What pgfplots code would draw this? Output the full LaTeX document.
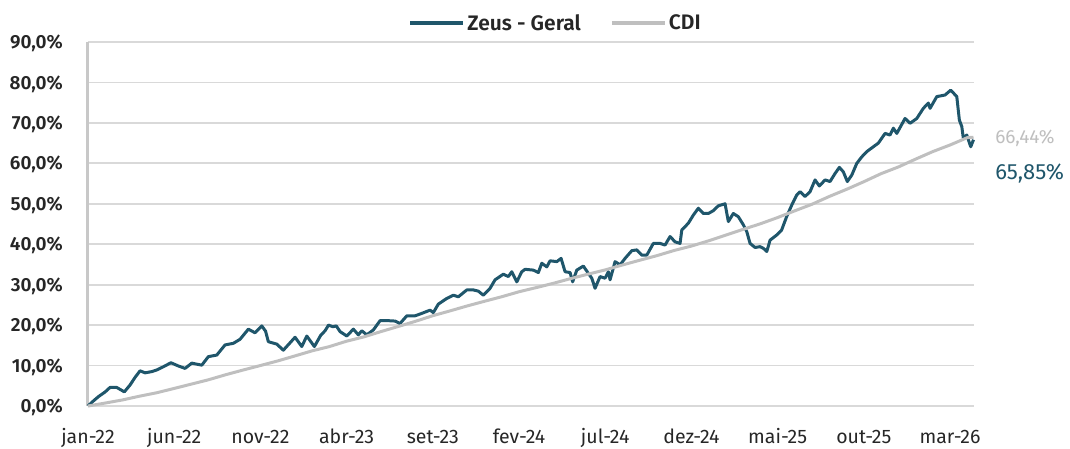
\documentclass[border=0pt]{standalone}
\usepackage{pgfplots}
\pgfplotsset{compat=1.18}
\usepackage{fontspec}
\setmainfont{Fira Sans}[BoldFont={Fira Sans SemiBold}]

\definecolor{zeus}{RGB}{31,86,107}
\definecolor{cdi}{RGB}{191,191,191}
\definecolor{gridc}{RGB}{217,217,217}
\definecolor{axc}{RGB}{200,200,200}
\definecolor{txt}{RGB}{38,38,38}

\begin{document}
\begin{tikzpicture}
% page = 1070 x 448, plot area starts at (0,0)
\path[use as bounding box] (-88pt,-42pt) rectangle (982pt,406pt);
\begin{axis}[
    scale only axis, width=885.5pt, height=364pt,
    at={(0pt,0pt)}, anchor=south west,
    xmin=0, xmax=51.36, ymin=0, ymax=90,
    clip=false,
    axis lines=left,
    x axis line style={draw=none},
    y axis line style={draw=axc, line width=3pt, -},
    ymajorgrids, grid style={gridc, line width=1.8pt},
    major tick length=0pt,
    xtick={0,5,...,50},
    xticklabels={jan-22,jun-22,nov-22,abr-23,set-23,fev-24,jul-24,dez-24,mai-25,out-25,mar-26},
    xticklabel style={anchor=base, inner sep=0pt, yshift=-37.5pt, text=txt,
        font=\fontsize{19.5pt}{23pt}\selectfont},
    ytick={0,10,...,90},
    yticklabel={\pgfmathprintnumber[use comma, fixed, fixed zerofill, precision=1, assume math mode=true]{\tick}\%},
    yticklabel style={anchor=base east, inner sep=0pt, xshift=-25pt, yshift=-6.6pt, text=txt,
        font=\bfseries\fontsize{19pt}{22pt}\selectfont},
    legend style={at={(0.528,1.052)}, anchor=center, draw=none, fill=none,
        legend columns=2, text=txt, inner sep=0pt,
        font=\bfseries\fontsize{21pt}{24pt}\selectfont,
        /tikz/every even column/.append style={column sep=27pt}},
    legend image code/.code={\draw[#1, line width=4pt] (0pt,0pt) -- (53pt,0pt);},
]
% Zeus - Geral
\addplot[zeus, line width=3pt, line join=round] coordinates {
(0,0) (0.3,1.2) (0.6,2.3) (1.0,3.5) (1.28,4.6) (1.66,4.6) (2.11,3.5) (2.44,5.2)
(2.75,7.2) (3.02,8.7) (3.31,8.2) (3.69,8.5) (3.98,8.9) (4.37,9.7) (4.81,10.7)
(5.24,9.9) (5.63,9.3) (6.02,10.6) (6.60,10.1) (6.98,12.2) (7.47,12.6) (7.95,15.1)
(8.43,15.5) (8.82,16.5) (9.30,19.0) (9.69,18.1) (10.08,19.8) (10.30,18.5)
(10.46,15.9) (10.95,15.3) (11.33,13.8) (12.01,17.0) (12.40,14.7) (12.69,17.3)
(13.13,14.7) (13.50,17.5) (13.75,18.6) (13.95,20.0) (14.20,19.6) (14.40,19.8)
(14.62,18.4) (15.01,17.3) (15.39,19.0) (15.68,17.6) (15.88,18.6) (16.17,17.6)
(16.55,18.8) (16.94,21.1) (17.42,21.1) (17.81,21.0) (18.10,20.4) (18.49,22.3)
(18.97,22.3) (19.36,22.9) (19.84,23.7) (20.03,23.1) (20.32,25.2) (20.81,26.6)
(21.19,27.4) (21.48,27.0) (21.97,28.7) (22.35,28.7) (22.64,28.4) (22.93,27.4)
(23.32,29.1) (23.61,31.2) (24.09,32.6) (24.38,32.0) (24.58,33.2) (24.87,30.7)
(25.16,33.2) (25.35,33.8) (25.83,33.6) (26.12,33.0) (26.32,35.3) (26.61,34.4)
(26.80,35.9) (27.19,35.7) (27.44,36.5) (27.67,33.2) (27.96,33.0) (28.11,30.7)
(28.35,33.6) (28.73,34.6) (29.02,32.8) (29.22,31.6) (29.41,29.1) (29.70,32.0)
(29.99,31.6) (30.18,33.2) (30.28,31.2) (30.57,35.7) (30.86,34.9) (31.15,36.5)
(31.54,38.4) (31.83,38.6) (32.12,37.3) (32.41,37.3) (32.79,40.2) (33.18,40.2)
(33.47,39.8) (33.76,41.9) (34.05,40.6) (34.34,40.2) (34.44,43.5) (34.82,45.2)
(35.11,47.2) (35.40,48.9) (35.69,47.6) (35.98,47.6) (36.27,48.3) (36.56,49.5)
(36.95,50.0) (37.14,45.6) (37.43,47.6) (37.72,46.8) (38.01,44.8) (38.21,43.1)
(38.40,40.2) (38.69,39.2) (38.98,39.4) (39.17,39.0) (39.37,38.2) (39.56,41.0)
(39.95,42.3) (40.23,43.5) (40.52,46.8) (40.82,49.7) (41.11,52.2) (41.30,53.0)
(41.59,51.8) (41.88,53.0) (42.17,55.9) (42.42,54.4) (42.75,55.9) (43.04,55.5)
(43.33,57.5) (43.58,59.0) (43.81,57.9) (44.04,55.5) (44.30,57.1) (44.59,60.0)
(44.88,61.6) (45.17,62.9) (45.55,64.1) (45.84,65.0) (46.23,67.4) (46.52,67.0)
(46.71,68.7) (46.91,67.4) (47.39,71.1) (47.68,69.9) (48.07,71.1) (48.45,73.6)
(48.74,74.9) (48.84,73.6) (49.23,76.5) (49.71,76.9) (50.04,78.1) (50.39,76.5)
(50.54,70.7) (50.68,69.1) (50.77,66.2) (50.97,67.0) (51.20,64.1) (51.36,65.85)
};
\addlegendentry{Zeus - Geral}
% CDI, month-end accumulated
\addplot[cdi, line width=3pt, line join=round] coordinates {
(0,0) (1,0.73) (2,1.50) (3,2.44) (4,3.29) (5,4.35) (6,5.42) (7,6.50) (8,7.75)
(9,8.90) (10,10.01) (11,11.14) (12,12.38) (13,13.64) (14,14.69) (15,16.03)
(16,17.09) (17,18.41) (18,19.67) (19,20.95) (20,22.33) (21,23.52) (22,24.75)
(23,25.90) (24,27.02) (25,28.25) (26,29.28) (27,30.35) (28,31.51) (29,32.60)
(30,33.65) (31,34.87) (32,36.04) (33,37.18) (34,38.46) (35,39.55) (36,40.85)
(37,42.27) (38,43.68) (39,45.06) (40,46.60) (41,48.27) (42,49.90) (43,51.82)
(44,53.58) (45,55.46) (46,57.45) (47,59.10) (48,61.04) (49,62.91) (50,64.54)
(51,66.35) (51.36,66.44)
};
\addlegendentry{CDI}
\node[anchor=west, inner sep=0pt, text=cdi, font=\fontsize{19pt}{22pt}\selectfont]
    at (axis cs:52.61,66.1) {66,44\%};
\node[anchor=west, inner sep=0pt, text=zeus, font=\fontsize{22pt}{25pt}\selectfont]
    at (axis cs:52.61,57.4) {65,85\%};
\end{axis}
\end{tikzpicture}
\end{document}
